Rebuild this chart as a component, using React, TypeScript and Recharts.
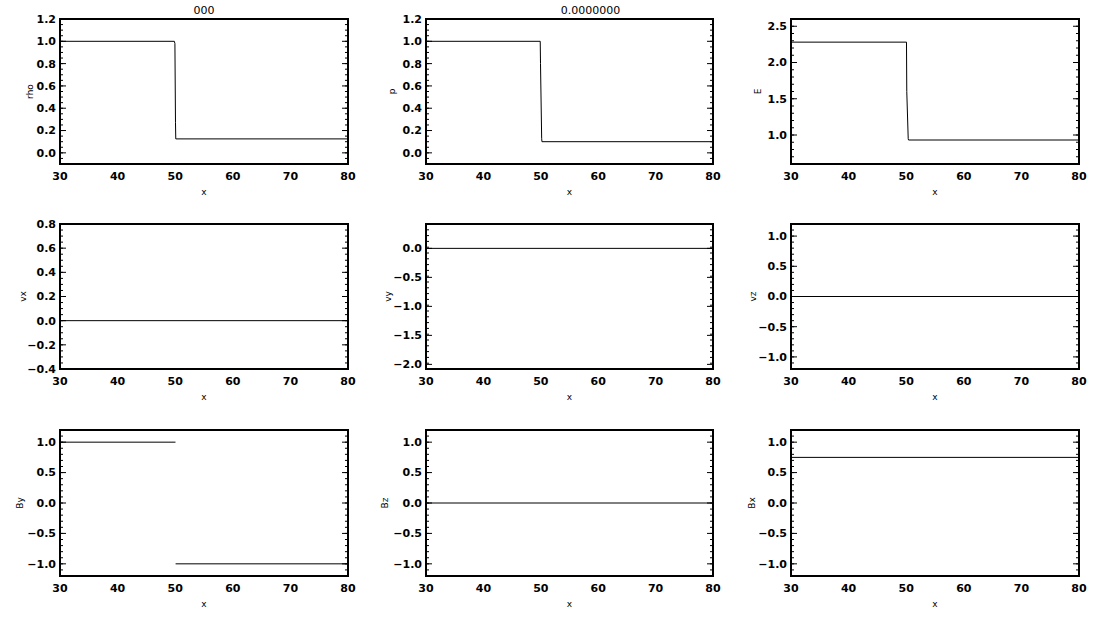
import { LineChart, Line, XAxis, YAxis } from 'recharts';

// x axis, shared by every panel
const X_TICKS = [30, 40, 50, 60, 70, 80];

// top row: rho, p, E
const RHO_X = [30, 49.85, 49.95, 50.05, 50.1, 80];
const RHO_Y = [1.0, 1.0, 0.98, 0.27, 0.125, 0.125];
const P_X = [30, 49.9, 49.95, 50.15, 50.2, 80];
const P_Y = [1.0, 1.0, 0.8, 0.13, 0.1, 0.1];
const E_X = [30, 50.05, 50.1, 50.35, 50.4, 80];
const E_Y = [2.281, 2.281, 1.6, 0.95, 0.931, 0.931];

// middle row: velocities
const VX_X = [30, 80];
const VX_Y = [0, 0];
const VY_X = [30, 80];
const VY_Y = [0, 0];
const VZ_X = [30, 80];
const VZ_Y = [0, 0];

// bottom row: magnetic field
const BY_X = [30, 50.05, 50.06, 50.07, 80];
const BY_Y: (number | null)[] = [1.0, 1.0, null, -1.0, -1.0];
const BZ_X = [30, 80];
const BZ_Y = [0, 0];
const BX_X = [30, 80];
const BX_Y = [0.75, 0.75];

// y tick labels
const TICKS_RHO = [0.0, 0.2, 0.4, 0.6, 0.8, 1.0, 1.2];
const TICKS_E = [1.0, 1.5, 2.0, 2.5];
const TICKS_VX = [-0.4, -0.2, 0.0, 0.2, 0.4, 0.6, 0.8];
const TICKS_VY = [-2.0, -1.5, -1.0, -0.5, 0.0];
const TICKS_UNIT = [-1.0, -0.5, 0.0, 0.5, 1.0];

const TITLES = ['000', '0.0000000'];

const FONT = '"DejaVu Sans", sans-serif';
const TICK_STYLE = { fontSize: 11, fill: '#000', fontFamily: FONT, fontWeight: 700 };
const BOX = { stroke: '#000', strokeWidth: 2, strokeLinecap: 'square' as const };
const TL = { stroke: '#000', strokeWidth: 1 };
const THIN = 0.01; // mirrored axes take no room but must be > 0 to render
const NO_LABEL = () => <g />;

function range(lo: number, hi: number, step: number) {
  const out: number[] = [];
  const n = Math.round((hi - lo) / step);
  for (let i = 0; i <= n; i++) out.push(+(lo + i * step).toFixed(4));
  return out;
}

const X_MINOR = range(30, 80, 1);

const fmt = (v: number) => (v < 0 ? '\u2212' + Math.abs(v).toFixed(1) : v.toFixed(1));

interface PanelProps {
  left: number;
  top: number;
  boxW: number;
  boxH: number;
  yGap: number;
  xs: number[];
  ys: (number | null)[];
  yDomain: [number, number];
  yTicks: number[];
  yMinorStep: number;
  yLabel: string;
  title?: string;
  titleDx?: number;
}

function Panel(p: PanelProps) {
  const labW = p.yGap * 2;
  const TOP = 22, RIGHT = 8, BOTTOM = 36;
  const data = p.xs.map((x, i) => ({ x, y: p.ys[i] }));
  const yMinor = range(p.yDomain[0], p.yDomain[1], p.yMinorStep);
  const W = labW + p.boxW + RIGHT;
  const H = TOP + p.boxH + BOTTOM;
  const xCommon = { type: 'number' as const, domain: [30, 80], allowDataOverflow: true, interval: 0 as const };
  const yCommon = { type: 'number' as const, domain: p.yDomain, allowDataOverflow: true, interval: 0 as const };

  return (
    <div style={{ position: 'absolute', left: p.left - labW, top: p.top - TOP }}>
      <LineChart width={W} height={H} data={data} margin={{ top: TOP, right: RIGHT, bottom: 0, left: 0 }}>
        {/* labelled axes */}
        <XAxis xAxisId="lab" dataKey="x" {...xCommon} ticks={X_TICKS} height={BOTTOM}
          tickLine={false} axisLine={false} tickSize={0} tickMargin={8} tick={TICK_STYLE}
          label={{ value: 'x', position: 'insideBottom', offset: 5, fontSize: 9, fill: '#000', fontFamily: FONT }} />
        <YAxis yAxisId="lab" {...yCommon} ticks={p.yTicks} width={labW}
          tickLine={false} axisLine={false} tickSize={0} tickMargin={4} tick={TICK_STYLE} tickFormatter={fmt}
          label={{ value: p.yLabel, position: 'center', angle: -90, fontSize: 9, fill: '#000', fontFamily: FONT }} />

        {/* box and inward ticks */}
        <XAxis xAxisId="bMaj" {...xCommon} ticks={X_TICKS} orientation="bottom" mirror height={THIN}
          tick={NO_LABEL} tickSize={4} axisLine={BOX} tickLine={TL} />
        <XAxis xAxisId="bMin" {...xCommon} ticks={X_MINOR} orientation="bottom" mirror height={THIN}
          tick={NO_LABEL} tickSize={2} axisLine={false} tickLine={TL} />
        <XAxis xAxisId="tMaj" {...xCommon} ticks={X_TICKS} orientation="top" mirror height={THIN}
          tick={NO_LABEL} tickSize={4} axisLine={BOX} tickLine={TL}
          label={p.title ? { value: p.title, position: 'top', offset: 5, dx: p.titleDx ?? 0, fontSize: 11, fill: '#000', fontFamily: FONT } : undefined} />
        <XAxis xAxisId="tMin" {...xCommon} ticks={X_MINOR} orientation="top" mirror height={THIN}
          tick={NO_LABEL} tickSize={2} axisLine={false} tickLine={TL} />
        <YAxis yAxisId="lMaj" {...yCommon} ticks={p.yTicks} orientation="left" mirror width={THIN}
          tick={NO_LABEL} tickSize={6} axisLine={BOX} tickLine={TL} />
        <YAxis yAxisId="lMin" {...yCommon} ticks={yMinor} orientation="left" mirror width={THIN}
          tick={NO_LABEL} tickSize={3} axisLine={false} tickLine={TL} />
        <YAxis yAxisId="rMaj" {...yCommon} ticks={p.yTicks} orientation="right" mirror width={THIN}
          tick={NO_LABEL} tickSize={6} axisLine={BOX} tickLine={TL} />
        <YAxis yAxisId="rMin" {...yCommon} ticks={yMinor} orientation="right" mirror width={THIN}
          tick={NO_LABEL} tickSize={3} axisLine={false} tickLine={TL} />

        <Line xAxisId="lab" yAxisId="lab" dataKey="y" type="linear" stroke="#000" strokeWidth={1}
          dot={false} connectNulls={false} isAnimationActive={false} />
      </LineChart>
    </div>
  );
}

const COLS = [{ left: 60, w: 288 }, { left: 426, w: 287 }, { left: 791, w: 288 }];
const ROWS = [{ top: 19, h: 145 }, { top: 224, h: 145 }, { top: 430, h: 146 }];

export default function App() {
  const panels: Omit<PanelProps, 'left' | 'top' | 'boxW' | 'boxH'>[] = [
    { yGap: 30, xs: RHO_X, ys: RHO_Y, yDomain: [-0.1, 1.2], yTicks: TICKS_RHO, yMinorStep: 0.05, yLabel: 'rho', title: TITLES[0] },
    { yGap: 34, xs: P_X, ys: P_Y, yDomain: [-0.1, 1.2], yTicks: TICKS_RHO, yMinorStep: 0.05, yLabel: 'p', title: TITLES[1], titleDx: 21 },
    { yGap: 33, xs: E_X, ys: E_Y, yDomain: [0.6, 2.6], yTicks: TICKS_E, yMinorStep: 0.1, yLabel: 'E' },
    { yGap: 37, xs: VX_X, ys: VX_Y, yDomain: [-0.4, 0.8], yTicks: TICKS_VX, yMinorStep: 0.05, yLabel: 'vx' },
    { yGap: 38, xs: VY_X, ys: VY_Y, yDomain: [-2.08, 0.42], yTicks: TICKS_VY, yMinorStep: 0.1, yLabel: 'vy' },
    { yGap: 38, xs: VZ_X, ys: VZ_Y, yDomain: [-1.2, 1.2], yTicks: TICKS_UNIT, yMinorStep: 0.1, yLabel: 'vz' },
    { yGap: 40, xs: BY_X, ys: BY_Y, yDomain: [-1.2, 1.2], yTicks: TICKS_UNIT, yMinorStep: 0.1, yLabel: 'By' },
    { yGap: 41, xs: BZ_X, ys: BZ_Y, yDomain: [-1.2, 1.2], yTicks: TICKS_UNIT, yMinorStep: 0.1, yLabel: 'Bz' },
    { yGap: 39, xs: BX_X, ys: BX_Y, yDomain: [-1.2, 1.2], yTicks: TICKS_UNIT, yMinorStep: 0.1, yLabel: 'Bx' },
  ];

  return (
    <div style={{ position: 'absolute', left: 0, top: 0, width: 1097, height: 617, background: '#fff', overflow: 'hidden' }}>
      {panels.map((cfg, i) => {
        const c = COLS[i % 3];
        const r = ROWS[Math.floor(i / 3)];
        return <Panel key={i} {...cfg} left={c.left} top={r.top} boxW={c.w} boxH={r.h} />;
      })}
    </div>
  );
}
